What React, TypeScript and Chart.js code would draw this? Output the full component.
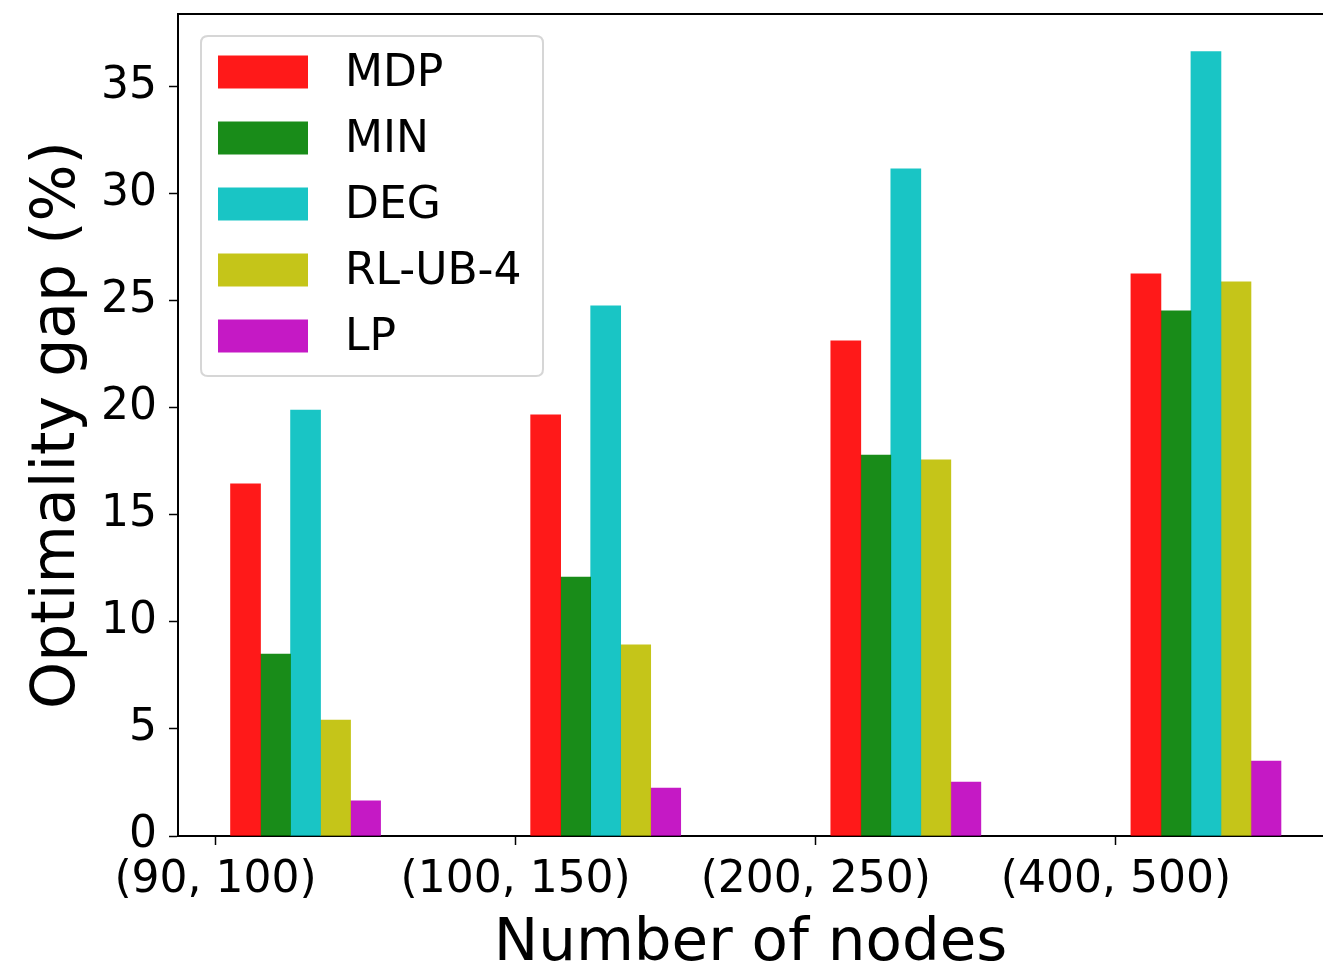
import React, { useEffect, useRef } from "react";
import { Chart, registerables } from "chart.js";

Chart.register(...registerables);

const CATEGORIES = ["(90, 100)", "(100, 150)", "(200, 250)", "(400, 500)"];
const SERIES_NAMES = ["MDP", "MIN", "DEG", "RL-UB-4", "LP"];
const MDP = [16.45, 19.67, 23.13, 26.26];
const MIN = [8.5, 12.1, 17.8, 24.53];
const DEG = [19.9, 24.77, 31.17, 36.64];
const RL_UB_4 = [5.42, 8.93, 17.57, 25.89];
const LP = [1.64, 2.24, 2.52, 3.5];
const SERIES = [MDP, MIN, DEG, RL_UB_4, LP];
const Y_TICKS = [0, 5, 10, 15, 20, 25, 30, 35];
const X_TITLE = "Number of nodes";
const Y_TITLE = "Optimality gap (%)";
const COLORS = [
  "rgba(255,0,0,0.9)",
  "rgba(0,128,0,0.9)",
  "rgba(0,191,191,0.9)",
  "rgba(191,191,0,0.9)",
  "rgba(191,0,191,0.9)",
];
const BAR_WIDTH = 0.1;

const FONT = "DejaVu Sans";

const frameAndLegend = {
  id: "frameAndLegend",
  afterDraw(chart: any) {
    const { ctx, chartArea } = chart;
    ctx.save();
    // top spine
    ctx.strokeStyle = "#000";
    ctx.lineWidth = 2;
    ctx.beginPath();
    ctx.moveTo(chartArea.left, chartArea.top);
    ctx.lineTo(chartArea.right, chartArea.top);
    ctx.stroke();

    // legend
    const x0 = chartArea.left + 23;
    const y0 = chartArea.top + 22;
    const w = 342;
    const h = 340;
    const r = 7;
    ctx.beginPath();
    ctx.moveTo(x0 + r, y0);
    ctx.lineTo(x0 + w - r, y0);
    ctx.quadraticCurveTo(x0 + w, y0, x0 + w, y0 + r);
    ctx.lineTo(x0 + w, y0 + h - r);
    ctx.quadraticCurveTo(x0 + w, y0 + h, x0 + w - r, y0 + h);
    ctx.lineTo(x0 + r, y0 + h);
    ctx.quadraticCurveTo(x0, y0 + h, x0, y0 + h - r);
    ctx.lineTo(x0, y0 + r);
    ctx.quadraticCurveTo(x0, y0, x0 + r, y0);
    ctx.closePath();
    ctx.fillStyle = "rgba(255,255,255,0.8)";
    ctx.fill();
    ctx.strokeStyle = "#d6d6d6";
    ctx.lineWidth = 2;
    ctx.stroke();

    chart.data.datasets.forEach((ds: any, i: number) => {
      const cy = y0 + 36 + i * 66;
      ctx.fillStyle = ds.backgroundColor;
      ctx.fillRect(x0 + 17, cy - 16.5, 90, 33);
      ctx.fillStyle = "#000";
      ctx.font = `44px "${FONT}"`;
      ctx.textBaseline = "middle";
      ctx.textAlign = "left";
      ctx.fillText(ds.label, x0 + 144, cy + 3);
    });
    ctx.restore();
  },
};

export default function App() {
  const ref = useRef<HTMLCanvasElement | null>(null);

  useEffect(() => {
    document.body.style.margin = "0";
    const canvas = ref.current;
    if (!canvas) return;
    const datasets = SERIES.map((values, k) => ({
      label: SERIES_NAMES[k],
      data: values.map((v, i) => ({ x: i + (k + 1) * BAR_WIDTH, y: v })),
      backgroundColor: COLORS[k],
      borderWidth: 0,
      grouped: false,
      barPercentage: 1,
      categoryPercentage: 1,
    }));

    const chart = new Chart(canvas, {
      type: "bar",
      data: { datasets },
      plugins: [frameAndLegend],
      options: {
        responsive: false,
        animation: false,
        events: [],
        layout: { padding: { top: 14, left: 0, right: 0, bottom: 0 } },
        plugins: {
          legend: { display: false },
          tooltip: { enabled: false },
        },
        scales: {
          x: {
            type: "linear",
            offset: false,
            min: -0.125,
            max: 3.69,
            afterBuildTicks: (scale: any) => {
              scale.ticks = CATEGORIES.map((_, i) => ({ value: i }));
            },
            afterFit: (scale: any) => {
              scale.height = 130;
              scale.paddingLeft = 0;
              scale.paddingRight = 0;
            },
            ticks: {
              autoSkip: false,
              maxRotation: 0,
              color: "#000",
              padding: 9,
              font: { family: FONT, size: 44 },
              callback: (v: any) => CATEGORIES[Math.round(Number(v))] ?? "",
            },
            grid: {
              offset: false,
              drawOnChartArea: false,
              drawTicks: true,
              tickLength: 9,
              tickWidth: 1.5,
              color: "#000",
            },
            border: { display: true, color: "#000", width: 2 },
            title: {
              display: true,
              text: X_TITLE,
              color: "#000",
              font: { family: FONT, size: 59.5, lineHeight: 0.8 },
              padding: { top: 0, bottom: -2 },
            },
          },
          y: {
            min: 0,
            max: 38.4,
            afterBuildTicks: (scale: any) => {
              scale.ticks = Y_TICKS.map((v) => ({ value: v }));
            },
            afterFit: (scale: any) => {
              scale.width = 178;
              scale.paddingTop = 0;
              scale.paddingBottom = 0;
            },
            ticks: {
              color: "#000",
              padding: 12,
              font: { family: FONT, size: 44 },
            },
            grid: {
              drawOnChartArea: false,
              drawTicks: true,
              tickLength: 9,
              tickWidth: 1.5,
              color: "#000",
            },
            border: { display: true, color: "#000", width: 2 },
            title: {
              display: true,
              text: Y_TITLE,
              color: "#000",
              font: { family: FONT, size: 60, lineHeight: 1.2 },
              padding: { top: 22, bottom: 0 },
            },
          },
        },
      },
    } as any);
    return () => chart.destroy();
  }, []);

  return (
    <div style={{ width: 1323, height: 966 }}>
      <canvas ref={ref} width={1323} height={966} style={{ display: "block" }} />
    </div>
  );
}
